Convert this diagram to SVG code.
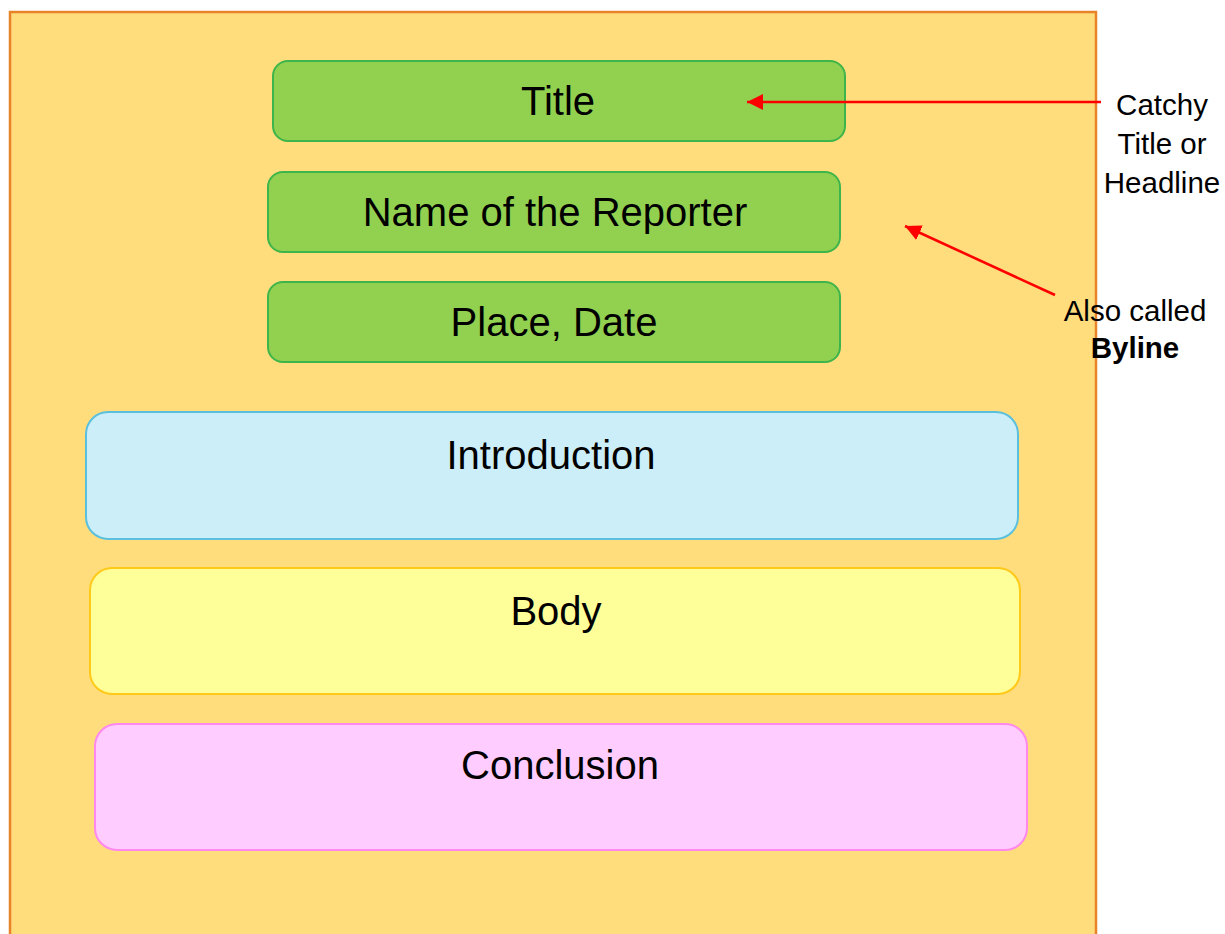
<svg xmlns="http://www.w3.org/2000/svg" width="1225" height="934" viewBox="0 0 1225 934">
<style>
  .lbl { font-family: "Liberation Sans", Arial, sans-serif; font-size: 40px; fill: #000; text-anchor: middle; }
  .note { font-family: "Liberation Sans", Arial, sans-serif; font-size: 29.5px; fill: #000; text-anchor: middle; }
  .green { fill: #92D050; stroke: #3DB54A; stroke-width: 2; }
  .conn { stroke: #FF0000; stroke-width: 2.6; fill: none; }
</style>
<defs>
  <marker id="arr" viewBox="0 0 16 16" refX="16" refY="8" markerWidth="16" markerHeight="16" markerUnits="userSpaceOnUse" orient="auto">
    <path d="M0,0 L16,8 L0,16 Z" fill="#FF0000"/>
  </marker>
</defs>
<rect width="1225" height="934" fill="#FFFFFF"/>
<g id="frame">
  <path d="M10,940 L10,12 L1096,12 L1096,940" fill="#FFDD7C" stroke="#E8832A" stroke-width="2.5"/>
</g>
<g id="title">
  <rect class="green" x="273" y="61" width="572" height="80" rx="15"/>
  <text class="lbl" x="558" y="115">Title</text>
</g>
<g id="reporter">
  <rect class="green" x="268" y="172" width="572" height="80" rx="15"/>
  <text class="lbl" x="555" y="226">Name of the Reporter</text>
</g>
<g id="placedate">
  <rect class="green" x="268" y="282" width="572" height="80" rx="15"/>
  <text class="lbl" x="554" y="336">Place, Date</text>
</g>
<g id="introduction">
  <rect x="86" y="412" width="932" height="127" rx="22" fill="#CCEEF8" stroke="#5BC0DE" stroke-width="2"/>
  <text class="lbl" x="551" y="469">Introduction</text>
</g>
<g id="body">
  <rect x="90" y="568" width="930" height="126" rx="22" fill="#FFFF99" stroke="#FFC91A" stroke-width="2"/>
  <text class="lbl" x="556" y="625" font-size="39">Body</text>
</g>
<g id="conclusion">
  <rect x="95" y="724" width="932" height="126" rx="22" fill="#FFCCFF" stroke="#FF88EE" stroke-width="2"/>
  <text class="lbl" x="560" y="779" font-size="39">Conclusion</text>
</g>
<g id="note-title">
  <text class="note" x="1162" y="115">Catchy</text>
  <text class="note" x="1162" y="154">Title or</text>
  <text class="note" x="1162" y="193">Headline</text>
</g>
<g id="note-byline">
  <text class="note" x="1135" y="321">Also called</text>
  <text class="note" x="1135" y="358" font-weight="bold">Byline</text>
</g>
<g id="connectors">
  <line class="conn" x1="1101" y1="102" x2="747" y2="102" marker-end="url(#arr)"/>
  <line class="conn" x1="1055" y1="295" x2="905" y2="226" marker-end="url(#arr)"/>
</g>
</svg>
